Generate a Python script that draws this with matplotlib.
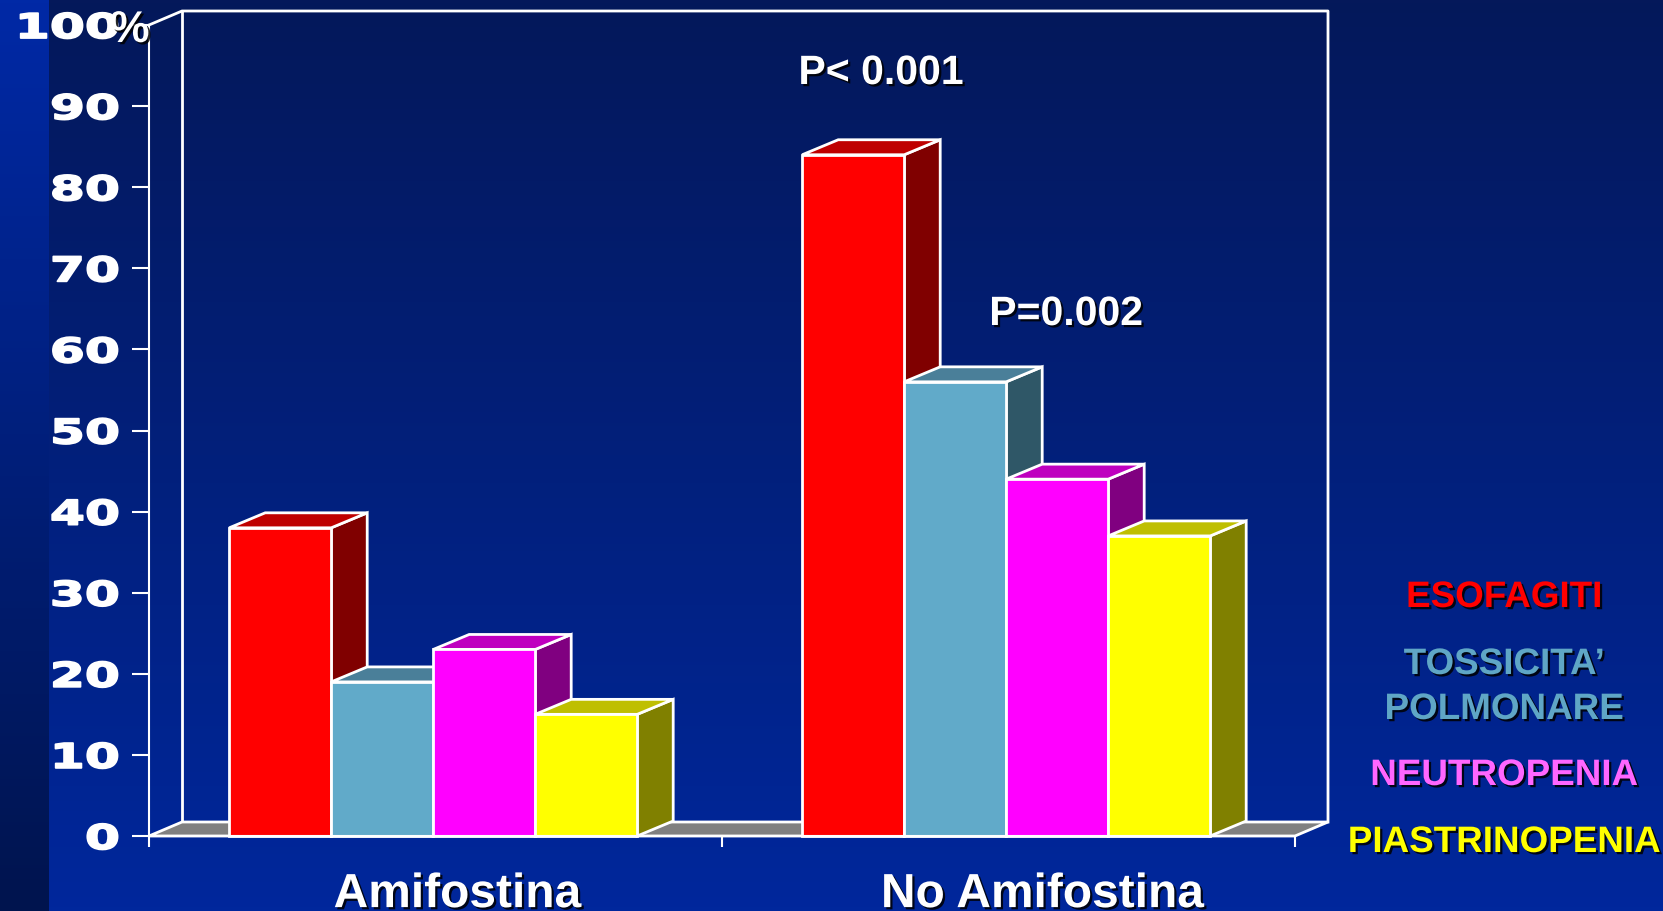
import numpy as np
import matplotlib
matplotlib.use("Agg")
import matplotlib.pyplot as plt
import matplotlib.patheffects as pe
from matplotlib.patches import Polygon
from matplotlib.transforms import Affine2D, ScaledTranslation

# ---- data -------------------------------------------------------------
groups = ["Amifostina", "No Amifostina"]
series = ["ESOFAGITI", "TOSSICITA’\nPOLMONARE", "NEUTROPENIA", "PIASTRINOPENIA"]
esofagiti = [38, 84]
tossicita_polmonare = [19, 56]
neutropenia = [23, 44]
piastrinopenia = [15, 37]
y_ticks = [0, 10, 20, 30, 40, 50, 60, 70, 80, 90, 100]
y_tick_labels = ["0", "10", "20", "30", "40", "50", "60", "70", "80", "90", "100"]
p_labels = ["P< 0.001", "P=0.002"]

# ---- styling -----------------------------------------------------------
W, H, DPI = 1663, 912, 100
front_colors = ["#ff0000", "#61aac9", "#ff00ff", "#ffff00"]
top_colors = ["#bf0000", "#4a7f99", "#bf00bf", "#bfbf00"]
side_colors = ["#800000", "#2f5767", "#800080", "#808000"]
legend_colors = ["#ff0000", "#5fa6c6", "#ff66ff", "#ffff00"]
WHITE = "white"
EDGE_LW = 2.0
LABEL_FONT = ["Liberation Sans", "DejaVu Sans"]


class WideGlyphs(pe.AbstractPathEffect):
    """Stretch glyph outlines horizontally (right ink edge fixed) and thicken them."""

    def __init__(self, sx, stroke=0.0):
        super().__init__()
        self._sx = sx
        self._stroke = stroke

    def draw_path(self, renderer, gc, tpath, affine, rgbFace=None):
        xr = tpath.get_extents().x1
        stretch = Affine2D().translate(-xr, 0).scale(self._sx, 1).translate(xr, 0)
        trans = stretch + affine
        if self._stroke > 0:
            gc0 = renderer.new_gc()
            gc0.copy_properties(gc)
            gc0.set_linewidth(self._stroke)
            gc0.set_foreground(rgbFace if rgbFace is not None else "white")
            gc0.set_joinstyle("round")
            renderer.draw_path(gc0, tpath, trans, rgbFace)
            gc0.restore()
        else:
            renderer.draw_path(gc, tpath, trans, rgbFace)


shadow = [pe.SimplePatchShadow(offset=(1.6, -1.6), shadow_rgbFace="black", alpha=0.85),
          pe.Normal()]


def px(x, y):
    """pixel position (from top-left) -> figure fraction"""
    return x / W, 1 - y / H


fig = plt.figure(figsize=(W / DPI, H / DPI), dpi=DPI)

# ---- background gradients ---------------------------------------------
bg = fig.add_axes([0, 0, 1, 1], zorder=-10)
bg.set_axis_off()
t = np.linspace(0, 1, 256)[:, None]
top_main = np.array([0x04, 0x18, 0x5a]) / 255
bot_main = np.array([0x00, 0x27, 0x9c]) / 255
main_grad = (top_main * (1 - t) + bot_main * t)[:, None, :].repeat(2, axis=1)
bg.imshow(main_grad, extent=[0, 1, 0, 1], aspect="auto", origin="upper")
top_strip = np.array([0x00, 0x29, 0xa6]) / 255
bot_strip = np.array([0x00, 0x14, 0x4e]) / 255
strip_grad = (top_strip * (1 - t) + bot_strip * t)[:, None, :].repeat(2, axis=1)
bg.imshow(strip_grad, extent=[0, 49 / W, 0, 1], aspect="auto", origin="upper")
bg.set_xlim(0, 1)
bg.set_ylim(0, 1)

# ---- main axes: front plane of the 3D box --------------------------------
ax_l, ax_r, ax_t, ax_b = 149, 1295, 26, 837
ax = fig.add_axes([ax_l / W, 1 - ax_b / H, (ax_r - ax_l) / W, (ax_b - ax_t) / H])
ax.set_facecolor("none")
ax.set_xlim(0, len(groups))
ax.set_ylim(0, 100)

# depth offsets (pixels converted to data units)
x_per_px = len(groups) / (ax_r - ax_l)
y_per_px = 100 / (ax_b - ax_t)
WDX, WDY = 33 * x_per_px, 14 * y_per_px     # walls / floor
BDX, BDY = 36 * x_per_px, 15 * y_per_px     # bars

# spines and ticks
for s in ["top", "right"]:
    ax.spines[s].set_visible(False)
for s in ["left", "bottom"]:
    ax.spines[s].set_color(WHITE)
    ax.spines[s].set_linewidth(1.5)
    ax.spines[s].set_zorder(50)

ax.set_yticks(y_ticks)
ax.set_yticklabels(y_tick_labels)
ax.tick_params(axis="y", colors=WHITE, length=12, width=1.5, pad=9.5,
               labelsize=24.5)
for lbl in ax.get_yticklabels():
    lbl.set_fontfamily("DejaVu Sans")
    lbl.set_fontweight("bold")
    lbl.set_path_effects([WideGlyphs(1.48, stroke=1.3)])

ax.set_xticks([0.5, 1.5])
ax.set_xticklabels(groups, fontfamily=LABEL_FONT, fontweight="bold", fontsize=34.5,
                   color=WHITE)
ax.set_xticks([0, 1, 2], minor=True)
ax.tick_params(axis="x", which="major", length=0, pad=26)
ax.tick_params(axis="x", which="minor", length=8, width=1.5, colors=WHITE)
for lbl, shift_px in zip(ax.get_xticklabels(), [22, 34]):
    lbl.set_transform(lbl.get_transform()
                      + ScaledTranslation(shift_px / DPI, 0, fig.dpi_scale_trans))
    lbl.set_path_effects(shadow)

# "%" sign after the top tick label
fig.text(*px(110, 43), "%", color=WHITE, fontsize=32, fontweight="bold",
         fontfamily=LABEL_FONT, ha="left", va="baseline", path_effects=shadow)

# back wall and floor
nx = len(groups)
floor = Polygon([(0, 0), (nx, 0), (nx + WDX, WDY), (WDX, WDY)], closed=True,
                facecolor="#808080", edgecolor=WHITE, lw=EDGE_LW, zorder=2,
                clip_on=False, joinstyle="miter")
ax.add_patch(floor)
ax.plot([0, WDX, nx + WDX, nx + WDX], [100, 100 + WDY, 100 + WDY, WDY],
        color=WHITE, lw=EDGE_LW, zorder=1, clip_on=False)
ax.plot([WDX, WDX], [WDY, 100 + WDY], color=WHITE, lw=EDGE_LW, zorder=1, clip_on=False)

# ---- 3D bars --------------------------------------------------------------
values = [esofagiti, tossicita_polmonare, neutropenia, piastrinopenia]
n_series = len(values)
bar_w = 0.178
centers = np.arange(nx) + 0.5
offsets = (np.arange(n_series) - (n_series - 1) / 2) * bar_w

fronts = []
for i, vals in enumerate(values):
    fronts.append(ax.bar(centers + offsets[i] - 0.004, vals, width=bar_w,
                         color=front_colors[i], edgecolor=WHITE, linewidth=EDGE_LW,
                         clip_on=False))

z = 10
for g in range(nx):
    for i in range(n_series):
        rect = fronts[i].patches[g]
        x0 = rect.get_x()
        x1 = x0 + rect.get_width()
        v = rect.get_height()
        side = Polygon([(x1, 0), (x1 + BDX, BDY), (x1 + BDX, v + BDY), (x1, v)],
                       closed=True, facecolor=side_colors[i], edgecolor=WHITE,
                       lw=EDGE_LW, zorder=z, clip_on=False, joinstyle="miter")
        top = Polygon([(x0, v), (x0 + BDX, v + BDY), (x1 + BDX, v + BDY), (x1, v)],
                      closed=True, facecolor=top_colors[i], edgecolor=WHITE,
                      lw=EDGE_LW, zorder=z + 0.1, clip_on=False, joinstyle="miter")
        ax.add_patch(side)
        ax.add_patch(top)
        rect.set_zorder(z + 0.2)
        rect.set_joinstyle("miter")
        z += 1

# ---- annotations -----------------------------------------------------------
fig.text(*px(881, 85), p_labels[0], color=WHITE, fontsize=29.5, fontweight="bold",
         fontfamily=LABEL_FONT, ha="center", va="baseline", path_effects=shadow)
fig.text(*px(1066, 326), p_labels[1], color=WHITE, fontsize=29.5, fontweight="bold",
         fontfamily=LABEL_FONT, ha="center", va="baseline", path_effects=shadow)

# ---- legend as coloured labels ---------------------------------------------
legend_x = 1504
legend_lines = [
    (series[0], legend_colors[0], 608),
    (series[1].split("\n")[0], legend_colors[1], 675),
    (series[1].split("\n")[1], legend_colors[1], 720),
    (series[2], legend_colors[2], 786),
    (series[3], legend_colors[3], 853),
]
for txt, col, base in legend_lines:
    fig.text(*px(legend_x, base), txt, color=col, fontsize=26.5, fontweight="bold",
             fontfamily=LABEL_FONT, ha="center", va="baseline", path_effects=shadow)

fig.savefig("out.png", dpi=DPI)
